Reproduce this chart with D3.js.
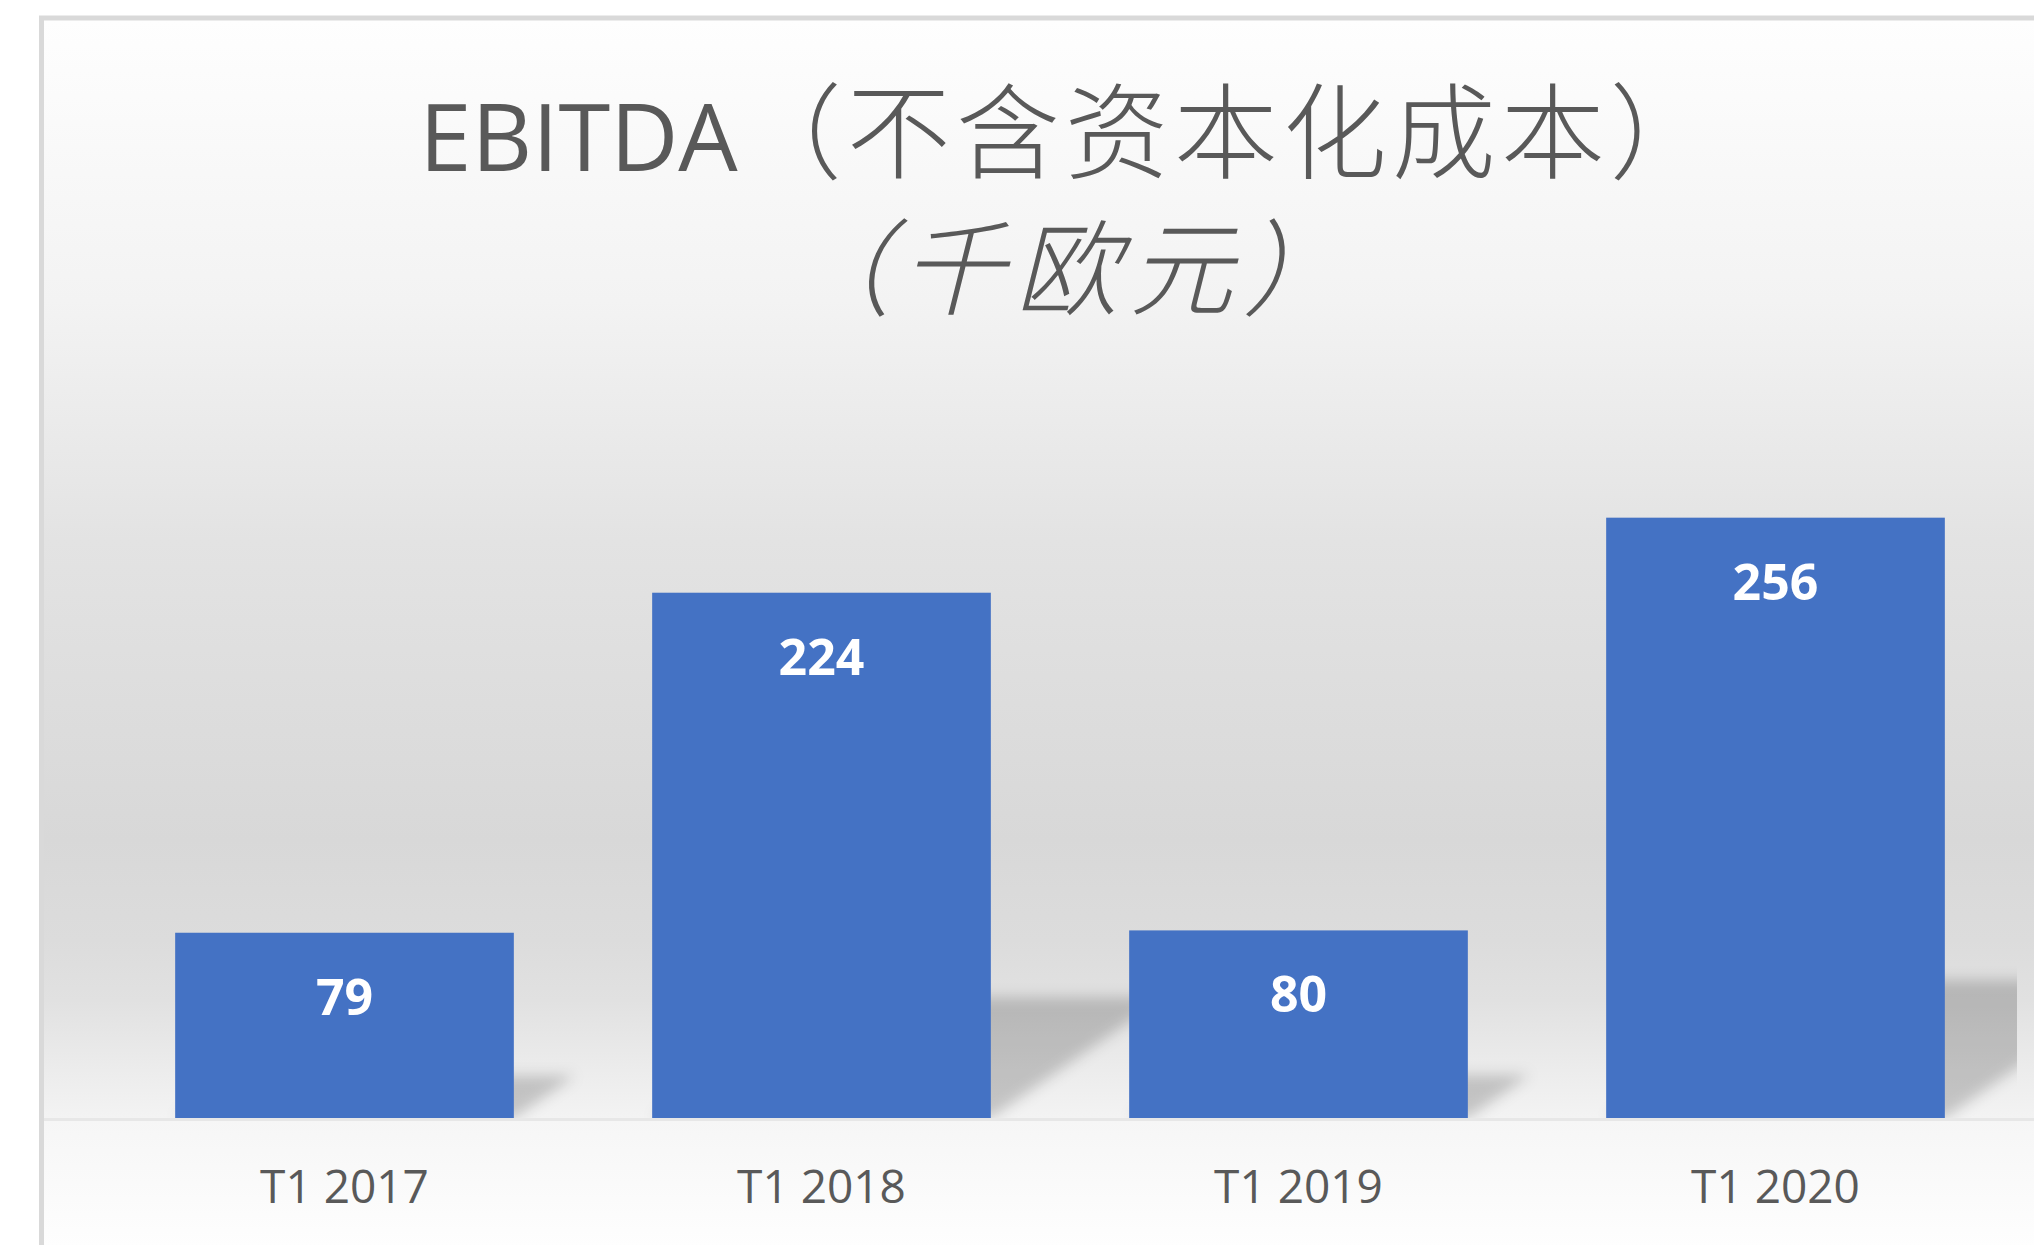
<!DOCTYPE html>
<html>
<head>
<meta charset="utf-8">
<script src="https://cdn.jsdelivr.net/npm/d3@7"></script>
<style>
  body { margin: 0; background: #ffffff; }
  svg { display: block; }
</style>
</head>
<body>
<script>
// chart data
var categories = ["T1 2017", "T1 2018", "T1 2019", "T1 2020"];
var values = [79, 224, 80, 256];
var titleLatin = "EBITDA";
var titleChinese = "（不含资本化成本）";
var subTitle = "（千欧元）";

var w = 2034, h = 1245;

var svg = d3.select("body").append("svg")
  .attr("width", w)
  .attr("height", h);

var defs = svg.append("defs");

// chart area background: white at top, grey near bars, light again at the floor
var bg = defs.append("linearGradient")
  .attr("id", "bgGrad")
  .attr("gradientUnits", "userSpaceOnUse")
  .attr("x1", 0).attr("y1", 20).attr("x2", 0).attr("y2", 1118);
[[20, "#fefefe"], [300, "#f3f3f3"], [540, "#e3e3e3"], [840, "#d8d8d8"], [940, "#dcdcdc"],
 [1000, "#e1e1e1"], [1070, "#ececec"], [1118, "#f3f3f3"]].forEach(function(s){
  bg.append("stop").attr("offset", (s[0] - 20) / (1118 - 20)).attr("stop-color", s[1]);
});

var floorGrad = defs.append("linearGradient")
  .attr("id", "floorGrad")
  .attr("x1", 0).attr("y1", 0).attr("x2", 0).attr("y2", 1);
floorGrad.append("stop").attr("offset", 0).attr("stop-color", "#f6f6f6");
floorGrad.append("stop").attr("offset", 1).attr("stop-color", "#fefefe");

// blur for the perspective shadows
defs.append("filter")
  .attr("id", "shadowBlur")
  .attr("x", "-30%").attr("y", "-30%").attr("width", "160%").attr("height", "160%")
  .append("feGaussianBlur")
  .attr("stdDeviation", 7);

// scales
var x = d3.scaleBand()
  .domain(categories)
  .range([106, 2014])
  .paddingInner(0.29)
  .paddingOuter(0.145);

var y = d3.scaleLinear()
  .domain([0, 300])
  .range([1118, 414.5]);

defs.append("clipPath")
  .attr("id", "plotClip")
  .append("rect")
  .attr("x", x.range()[0]).attr("y", y.range()[1])
  .attr("width", 2017 - x.range()[0])
  .attr("height", y(0) - y.range()[1]);

// chart area with grey border
svg.append("rect")
  .attr("x", 41.5).attr("y", 18)
  .attr("width", w + 20).attr("height", h + 20)
  .style("fill", "url(#bgGrad)")
  .style("stroke", "#d9d9d9")
  .style("stroke-width", 5);

// floor below the bars
svg.append("rect")
  .attr("x", 44).attr("y", y(0) + 2)
  .attr("width", w).attr("height", h - y(0))
  .style("fill", "url(#floorGrad)");

svg.append("line")
  .attr("x1", 44).attr("x2", w)
  .attr("y1", y(0) + 1.5).attr("y2", y(0) + 1.5)
  .style("stroke", "#e7e7e7")
  .style("stroke-width", 3);

// shadows: bar outline leaned back up and to the right
var k = 0.23, s = 0.33;
svg.append("g")
  .attr("clip-path", "url(#plotClip)")
  .selectAll("path")
  .data(values)
  .enter()
  .append("path")
  .attr("d", function(d, i){
    var x0 = x(categories[i]), x1 = x0 + x.bandwidth();
    var b = y(0), hh = y(0) - y(d);
    return "M" + x0 + "," + b + "L" + x1 + "," + b +
      "L" + (x1 + s * hh) + "," + (b - k * hh) +
      "L" + (x0 + s * hh) + "," + (b - k * hh) + "Z";
  })
  .style("fill", "#000")
  .style("fill-opacity", 0.19)
  .attr("filter", "url(#shadowBlur)");

// bars
svg.selectAll(".bar")
  .data(values)
  .enter()
  .append("rect")
  .attr("class", "bar")
  .attr("x", function(d, i){ return x(categories[i]); })
  .attr("y", function(d){ return y(d); })
  .attr("width", x.bandwidth())
  .attr("height", function(d){ return y(0) - y(d); })
  .style("fill", "#4472c4");

// value labels inside the bars
svg.selectAll(".valueLabel")
  .data(values)
  .enter()
  .append("text")
  .attr("class", "valueLabel")
  .attr("x", function(d, i){ return x(categories[i]) + x.bandwidth() / 2; })
  .attr("y", function(d){ return y(d) + 82; })
  .attr("text-anchor", "middle")
  .style("font-family", "'Open Sans', sans-serif")
  .style("font-weight", "bold")
  .style("font-size", "50px")
  .style("fill", "#ffffff")
  .text(function(d){ return d; });

// category axis
var xAxis = d3.axisBottom(x).tickSize(0).tickPadding(0);
var axis = svg.append("g")
  .attr("class", "axis")
  .attr("transform", "translate(0," + y(0) + ")")
  .call(xAxis);
axis.select(".domain").remove();
axis.selectAll("text")
  .attr("dy", null)
  .attr("y", 85)
  .style("font-family", "'Open Sans', sans-serif")
  .style("font-size", "46px")
  .style("fill", "#595959");

// title
var title = svg.append("text")
  .attr("class", "title")
  .attr("x", 1069)
  .attr("y", 171)
  .attr("text-anchor", "middle")
  .style("fill", "#595959");
title.append("tspan")
  .style("font-family", "'Open Sans', sans-serif")
  .style("font-size", "94px")
  .text(titleLatin);
title.append("tspan")
  .style("font-family", "'Noto Sans CJK SC', sans-serif")
  .style("font-size", "104px")
  .style("font-weight", 300)
  .style("letter-spacing", "5px")
  .text(titleChinese);

svg.append("text")
  .attr("class", "subtitle")
  .attr("x", 1072)
  .attr("y", 307)
  .attr("text-anchor", "middle")
  .style("font-family", "'Noto Sans CJK SC', sans-serif")
  .style("font-size", "104px")
  .style("font-weight", 300)
  .style("font-style", "italic")
  .style("letter-spacing", "10px")
  .style("fill", "#595959")
  .text(subTitle);
</script>
</body>
</html>
